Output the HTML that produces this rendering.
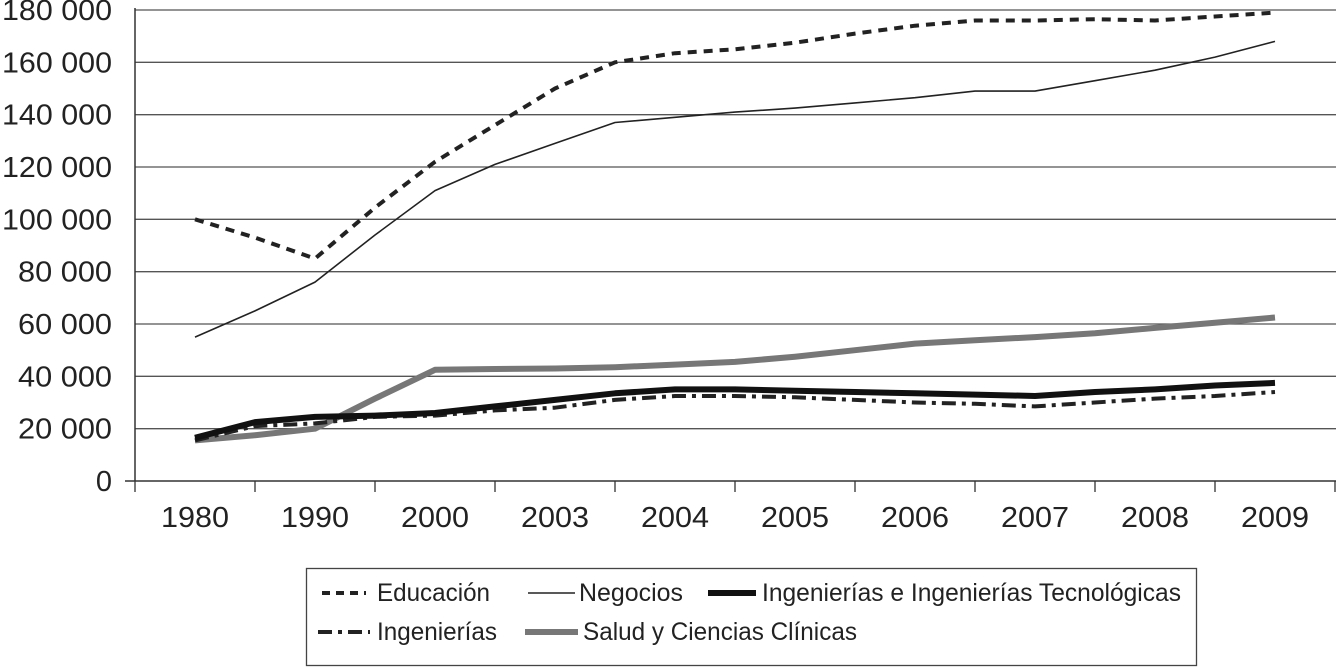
<!DOCTYPE html>
<html><head><meta charset="utf-8"><style>
html,body{margin:0;padding:0;background:#fff;}
svg{display:block;font-family:"Liberation Sans",sans-serif;}
</style></head><body>
<svg id="chart" width="1336" height="667" viewBox="0 0 1336 667">
<g id="grid"></g>
<g id="yaxis"></g>
<g id="xaxis"></g>
<g id="series"></g>
<g>
<rect x="306.5" y="568.5" width="890" height="97" fill="#fff" stroke="#444" stroke-width="1.3"/>
<g>
<line x1="322" y1="593" x2="366" y2="593" stroke="#222" stroke-width="4" stroke-dasharray="8,6"/>
<text x="377" y="601" font-size="25" fill="#222" textLength="113" lengthAdjust="spacingAndGlyphs">Educación</text></g>
<g>
<line x1="528" y1="593" x2="575" y2="593" stroke="#222" stroke-width="1.5"/>
<text x="579" y="601" font-size="25" fill="#222" textLength="104" lengthAdjust="spacingAndGlyphs">Negocios</text></g>
<g>
<line x1="708" y1="593" x2="756" y2="593" stroke="#111" stroke-width="6"/>
<text x="762" y="601" font-size="25" fill="#222" textLength="419" lengthAdjust="spacingAndGlyphs">Ingenierías e Ingenierías Tecnológicas</text></g>
<g>
<line x1="318" y1="632" x2="370" y2="632" stroke="#222" stroke-width="4" stroke-dasharray="14,6,4,6"/>
<text x="377" y="640" font-size="25" fill="#222" textLength="120" lengthAdjust="spacingAndGlyphs">Ingenierías</text></g>
<g>
<line x1="525" y1="632" x2="578" y2="632" stroke="#777" stroke-width="6"/>
<text x="583" y="640" font-size="25" fill="#222" textLength="274" lengthAdjust="spacingAndGlyphs">Salud y Ciencias Clínicas</text></g>
</g>
</svg>
<script>
const categories = ["1980","1990","2000","2003","2004","2005","2006","2007","2008","2009"];
const yTicks = [0,20000,40000,60000,80000,100000,120000,140000,160000,180000];
const yTickLabels = ["0","20 000","40 000","60 000","80 000","100 000","120 000","140 000","160 000","180 000"];
// points at half-category steps (index 0, 0.5, 1, ... 9)
const educacion = [100000,93000,85000,104500,122000,136000,150000,160000,163500,165000,167500,171000,174000,176000,176000,176500,176000,177500,179000];
const negocios = [55000,65000,76000,94000,111000,121000,129000,137000,139000,141000,142500,144500,146500,149000,149000,153000,157000,162000,168000];
const ingTec = [16500,22500,24500,25000,26000,28500,31000,33500,35000,35000,34500,34000,33500,33000,32500,34000,35000,36500,37500];
const ingenierias = [15500,21000,22000,24500,25000,27000,28000,31000,32500,32500,32000,31000,30000,29500,28500,30000,31500,32500,34000];
const salud = [15500,17500,20000,31500,42500,42800,43000,43500,44500,45500,47500,50000,52500,53800,55000,56500,58500,60500,62500];

const NS="http://www.w3.org/2000/svg";
const X0=135, CW=120, Y0=481, Y1=10, YMAX=180000;
function xScale(i){return X0+CW/2+i*CW;}
function yScale(v){return Y0-(v/YMAX)*(Y0-Y1);}
function mk(tag,attrs,parent){const e=document.createElementNS(NS,tag);for(const k in attrs)e.setAttribute(k,attrs[k]);parent.appendChild(e);return e;}

const grid=document.getElementById('grid'), ya=document.getElementById('yaxis'), xa=document.getElementById('xaxis'), sg=document.getElementById('series');
yTicks.forEach((v,i)=>{
  const y=yScale(v);
  if(v>0){const l=mk('line',{x1:X0,x2:1336,y1:y,y2:y,stroke:'#555','stroke-width':1.3},grid);
  
  }
  const lab=yTickLabels[i];
  const attrs={x:112,y:y+10,'font-size':29,'text-anchor':'end',fill:'#222'};
  if(lab.length>1){attrs.textLength=lab.length*16-2;attrs.lengthAdjust='spacingAndGlyphs';}
  const t=mk('text',attrs,ya);
  t.textContent=lab;
  
  
});
const yl=mk('line',{x1:X0,x2:X0,y1:Y1-2,y2:Y0,stroke:'#333','stroke-width':1.5},ya);


const xl=mk('line',{x1:X0-10,x2:1336,y1:Y0,y2:Y0,stroke:'#333','stroke-width':1.5},xa);


for(let i=0;i<=categories.length;i++){
  const x=X0+i*CW;
  const tk=mk('line',{x1:x,x2:x,y1:Y0,y2:Y0+11,stroke:'#333','stroke-width':1.3},xa);
  
  
}
categories.forEach((c,i)=>{
  const t=mk('text',{x:xScale(i),y:Y0+46,'font-size':29,'text-anchor':'middle',fill:'#222',textLength:68,lengthAdjust:'spacingAndGlyphs'},xa);
  t.textContent=c;
  
  
});
function drawSeries(vals,style,name){
  const d=vals.map((v,i)=>(i?'L':'M')+xScale(i*0.5).toFixed(1)+' '+yScale(v).toFixed(1)).join(' ');
  const p=mk('path',Object.assign({d:d,fill:'none','stroke-linejoin':'round'},style),sg);
  
  
}
drawSeries(salud,{stroke:'#777','stroke-width':6},'line-salud');
drawSeries(ingenierias,{stroke:'#222','stroke-width':4,'stroke-dasharray':'14,6,4,6'},'line-ingenierias');
drawSeries(ingTec,{stroke:'#111','stroke-width':6},'line-ingenierias-tecnologicas');
drawSeries(negocios,{stroke:'#222','stroke-width':1.6},'line-negocios');
drawSeries(educacion,{stroke:'#222','stroke-width':4,'stroke-dasharray':'9,7'},'line-educacion');
</script>
</body></html>
